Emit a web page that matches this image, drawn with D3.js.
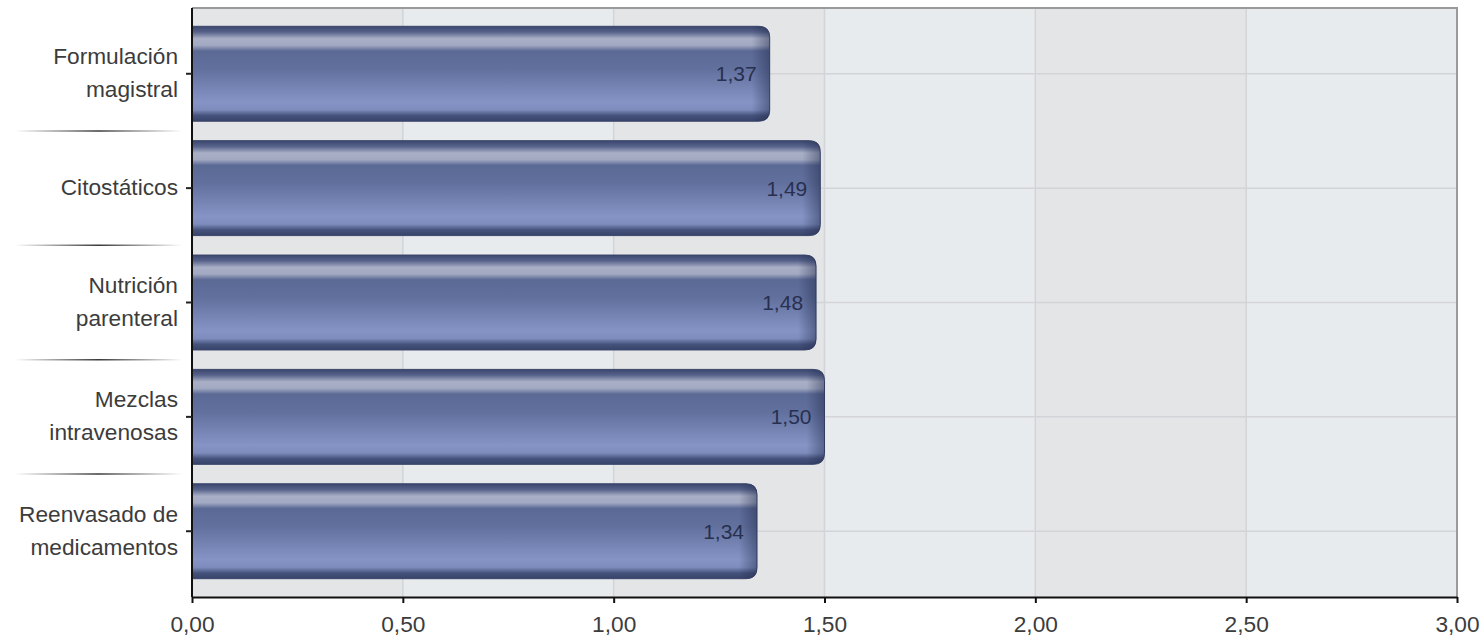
<!DOCTYPE html>
<html>
<head>
<meta charset="utf-8">
<script src="https://cdn.jsdelivr.net/npm/d3@7"></script>
<style>
  html, body { margin: 0; padding: 0; background: #ffffff; }
  svg { display: block; font-family: "Liberation Sans", Arial, sans-serif; }
</style>
</head>
<body>
<svg id="chart" width="1481" height="640"></svg>
<script>
const categories = ["Formulación\nmagistral", "Citostáticos", "Nutrición\nparenteral", "Mezclas\nintravenosas", "Reenvasado de\nmedicamentos"];
const values = [1.37, 1.49, 1.48, 1.50, 1.34];
const tickValues = [0, 0.5, 1.0, 1.5, 2.0, 2.5, 3.0];

(function () {
const svg = d3.select("#chart");
const pL = 192, pR = 1457, pT = 8, pB = 597;

const x = d3.scaleLinear().domain([0, 3]).range([pL, pR]);
const y = d3.scaleBand().domain(categories).range([pT, pB]).paddingInner(0.17).paddingOuter(0.16);
const fmt = d => d3.format(".2f")(d).replace(".", ",");

const defs = svg.append("defs");
const g = defs.append("linearGradient").attr("id", "barGrad").attr("x1", 0).attr("y1", 0).attr("x2", 0).attr("y2", 1);
[[0, "#3a466e"], [0.06, "#56628a"], [0.13, "#a9afc6"], [0.2, "#a2a9c2"], [0.26, "#5b6995"], [0.45, "#62709e"],
 [0.8, "#8594c5"], [0.88, "#7d8cbc"], [0.94, "#45527c"], [1, "#37436a"]]
  .forEach(([o, c]) => g.append("stop").attr("offset", o).attr("stop-color", c));

const sg = defs.append("linearGradient").attr("id", "sepGrad").attr("gradientUnits", "userSpaceOnUse")
  .attr("x1", 15).attr("x2", 182).attr("y1", 0).attr("y2", 0);
[[0, "#ffffff"], [0.5, "#3a3a3a"], [1, "#ffffff"]].forEach(([o, c]) => sg.append("stop").attr("offset", o).attr("stop-color", c));

const bands = d3.pairs(tickValues);
svg.append("g").selectAll("rect").data(bands).join("rect")
  .attr("x", d => x(d[0])).attr("y", pT)
  .attr("width", d => x(d[1]) - x(d[0])).attr("height", pB - pT)
  .attr("fill", (d, i) => i % 2 === 0 ? "#e4e5e7" : "#e8ebee");

svg.append("g").selectAll("line").data(tickValues.slice(1, -1)).join("line")
  .attr("x1", d => x(d)).attr("x2", d => x(d)).attr("y1", pT).attr("y2", pB)
  .attr("stroke", "#d2d4d7").attr("stroke-width", 1.5);

svg.append("g").selectAll("line").data(categories).join("line")
  .attr("x1", pL).attr("x2", pR)
  .attr("y1", d => y(d) + y.bandwidth() / 2).attr("y2", d => y(d) + y.bandwidth() / 2)
  .attr("stroke", "#d2d4d7").attr("stroke-width", 1.5);

svg.append("line").attr("x1", pL).attr("x2", pR + 1).attr("y1", pT).attr("y2", pT)
  .attr("stroke", "#9a9a9a").attr("stroke-width", 2);
svg.append("line").attr("x1", pR).attr("x2", pR).attr("y1", pT).attr("y2", pB)
  .attr("stroke", "#9a9a9a").attr("stroke-width", 2);

const r = 11;
function barPath(d, i) {
  const y0 = y(categories[i]), h = y.bandwidth();
  const x0 = x(0), x1 = x(d);
  return `M${x0},${y0} H${x1 - r} Q${x1},${y0} ${x1},${y0 + r} V${y0 + h - r} Q${x1},${y0 + h} ${x1 - r},${y0 + h} H${x0} Z`;
}
values.forEach((v, i) => {
  const eg = defs.append("linearGradient").attr("id", "endGrad" + i).attr("gradientUnits", "userSpaceOnUse")
    .attr("x1", x(v) - 18).attr("x2", x(v)).attr("y1", 0).attr("y2", 0);
  eg.append("stop").attr("offset", 0).attr("stop-color", "#1e2848").attr("stop-opacity", 0);
  eg.append("stop").attr("offset", 1).attr("stop-color", "#1e2848").attr("stop-opacity", 0.45);
});
const barsG = svg.append("g");
barsG.selectAll("path.bar").data(values).join("path").attr("class", "bar")
  .attr("d", barPath).attr("fill", "url(#barGrad)")
  .attr("stroke", "#3a4569").attr("stroke-width", 1);
barsG.selectAll("path.end").data(values).join("path").attr("class", "end")
  .attr("d", barPath).attr("fill", (d, i) => `url(#endGrad${i})`);

svg.append("g").selectAll("text").data(values).join("text")
  .attr("x", d => x(d) - 13)
  .attr("y", (d, i) => y(categories[i]) + y.bandwidth() / 2 + 2)
  .attr("text-anchor", "end").attr("dominant-baseline", "middle")
  .attr("font-size", 21).attr("fill", "#283050")
  .text(d => fmt(d));

const yAxis = svg.append("g").attr("transform", `translate(${pL},0)`)
  .call(d3.axisLeft(y).tickSize(6).tickFormat(""));
yAxis.select(".domain").attr("stroke", "#111").attr("stroke-width", 2).attr("d", `M0,${pT}V${pB}`);
yAxis.selectAll(".tick line").attr("stroke", "#222").attr("stroke-width", 2);

const labG = svg.append("g");
categories.forEach(c => {
  const lines = c.split("\n");
  const cy = y(c) + y.bandwidth() / 2;
  const lh = 33;
  const t = labG.append("text").attr("text-anchor", "end").attr("font-size", 22.7).attr("fill", "#3c3c3c");
  lines.forEach((ln, k) => {
    t.append("tspan").attr("x", 178)
      .attr("y", cy + (k - (lines.length - 1) / 2) * lh + 1)
      .attr("dominant-baseline", "middle").text(ln);
  });
});

const seps = d3.pairs(categories).map(([a, b]) => (y(a) + y.bandwidth() + y(b)) / 2);
svg.append("g").selectAll("line").data(seps).join("line")
  .attr("x1", 15).attr("x2", 182).attr("y1", d => d).attr("y2", d => d)
  .attr("stroke", "url(#sepGrad)").attr("stroke-width", 1.5);

const xAxis = svg.append("g").attr("transform", `translate(0,${pB})`)
  .call(d3.axisBottom(x).tickValues(tickValues).tickFormat(fmt).tickSize(6).tickSizeOuter(0));
xAxis.select(".domain").attr("stroke", "#111").attr("stroke-width", 2);
xAxis.selectAll(".tick line").attr("stroke", "#111").attr("stroke-width", 2);
xAxis.selectAll(".tick text").attr("font-size", 22.7).attr("fill", "#3c3c3c")
  .attr("font-family", "'Liberation Sans', Arial, sans-serif").attr("dy", "0.71em").attr("y", 19);
})();
</script>
</body>
</html>
